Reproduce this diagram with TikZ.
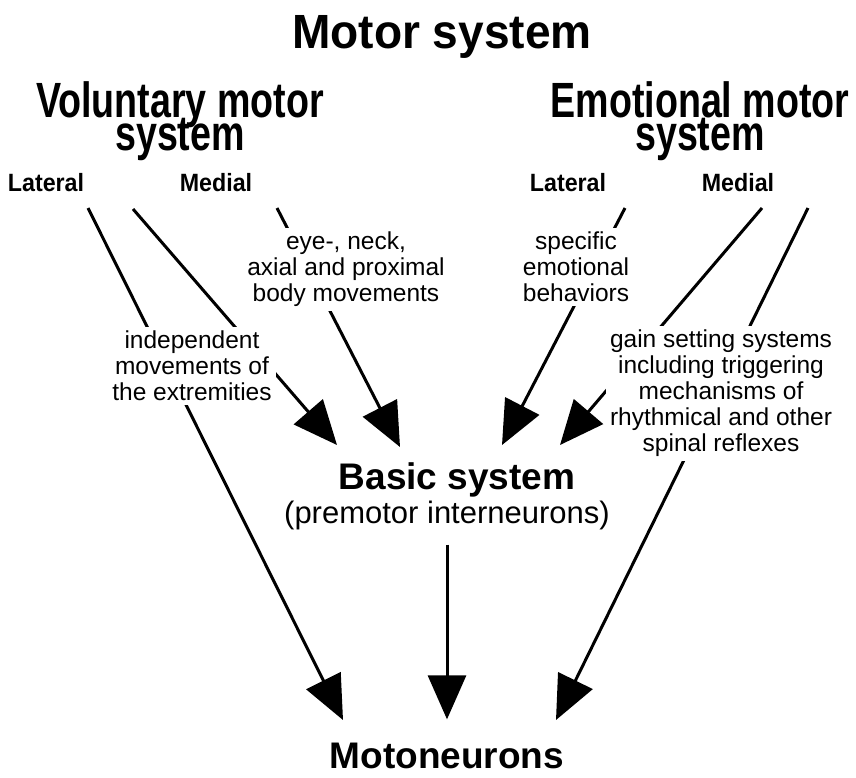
\documentclass[tikz,border=0pt]{standalone}
\usepackage{fontspec}
\setmainfont{Liberation Sans}
\newfontfamily\titlefont{Liberation Sans}[FakeStretch=0.96]
\newfontfamily\headfont{Liberation Sans}[FakeStretch=0.76]
\newfontfamily\sidefont{Liberation Sans}[FakeStretch=0.93]
\usetikzlibrary{arrows.meta}
\lineskiplimit=-100pt

\begin{document}
\begin{tikzpicture}[x=1pt, y=-1pt,
    title/.style={font=\titlefont\bfseries\fontsize{48}{52}\selectfont, inner sep=0pt, anchor=base},
    head/.style={font=\headfont\bfseries\fontsize{49.5}{35}\selectfont, inner sep=0pt, anchor=base},
    side/.style={font=\sidefont\bfseries\fontsize{25}{28}\selectfont, inner sep=0pt, anchor=base},
    target/.style={font=\bfseries\fontsize{37}{40}\selectfont, inner sep=3pt, anchor=base},
    note/.style={font=\fontsize{24.5}{26}\selectfont, align=center, fill=white, inner sep=4pt},
    arrow/.style={-{Triangle[length=44pt,width=38pt]}, line width=3pt}
  ]
    \useasboundingbox (0,0) rectangle (856,777);

    % Headings
    \node[title] (motor) at (442,48) {Motor system};
    \node[head] (vol) at (180,117) {Voluntary motor};
    \node[head] (volsys) at (180,150) {system};
    \node[head] (emo) at (700,117) {Emotional motor};
    \node[head] (emosys) at (700,150) {system};
    \node[side] (latL) at (46,191) {Lateral};
    \node[side] (medL) at (216,191) {Medial};
    \node[side] (latR) at (568,191) {Lateral};
    \node[side] (medR) at (738,191) {Medial};

    % Targets
    \node[target] (basic) at (457,489) {Basic system};
    \node[target, font=\fontsize{31}{34}\selectfont] (premotor) at (447,523) {(premotor interneurons)};
    \node[target] (moto) at (447,768) {Motoneurons};

    % Line ends
    \coordinate (latLs) at (88,208);
    \coordinate (medLas) at (133,209);
    \coordinate (medLbs) at (277,208);
    \coordinate (latRs) at (625,208);
    \coordinate (medRas) at (762,208);
    \coordinate (medRbs) at (808,208);
    \coordinate (basic1) at (337,445);
    \coordinate (basic2) at (400,447);
    \coordinate (basic3) at (502,445);
    \coordinate (basic4) at (560,445);
    \coordinate (moto1) at (343,720);
    \coordinate (moto3) at (556,720);

    % Arrows
    \draw[arrow] (latLs) -- (moto1);
    \draw[arrow] (medLas) -- (basic1);
    \draw[arrow] (medLbs) -- (basic2);
    \draw[arrow] (latRs) -- (basic3);
    \draw[arrow] (medRas) -- (basic4);
    \draw[arrow] (medRbs) -- (moto3);
    \draw[arrow, shorten <=12pt, shorten >=20pt] (premotor.south) -- (moto.north);

    % Labels on the lines
    \node[note] (indep) at (192,366) {independent\\movements of\\the extremities};
    \node[note] (eyeneck) at (346,269.5) {eye-, neck,\\axial and proximal\\body movements};
    \node[note] (specific) at (576,267) {specific\\emotional\\behaviors};
    \node[note] (gain) at (721,393.5) {gain setting systems\\including triggering\\mechanisms of\\rhythmical and other\\spinal reflexes};
\end{tikzpicture}
\end{document}
